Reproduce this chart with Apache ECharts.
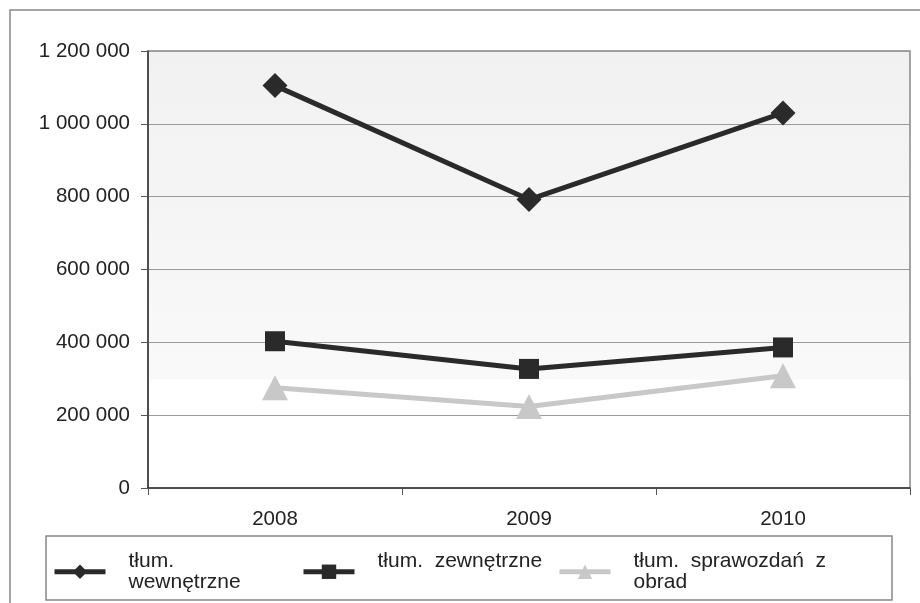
<!DOCTYPE html>
<html>
<head>
<meta charset="utf-8">
<script src="https://cdn.jsdelivr.net/npm/echarts@6/dist/echarts.min.js"></script>
<style>html,body{margin:0;padding:0;background:#fff}#c{width:920px;height:603px}</style>
</head>
<body>
<div id="c"></div>
<script>
const categories = ['2008', '2009', '2010'];
const seriesNames = ['tłum. wewnętrzne', 'tłum. zewnętrzne', 'tłum. sprawozdań z obrad'];
const wewnetrzne = [1105000, 792000, 1030000];
const zewnetrzne = [403000, 327000, 386000];
const sprawozdan = [275000, 224000, 308000];
const yTicks = [0, 200000, 400000, 600000, 800000, 1000000, 1200000];

const font = 'Liberation Sans, Arial, sans-serif';
const dark = '#2a2a2a';
const light = '#c8c8c8';
const fmt = v => String(v).replace(/\B(?=(\d{3})+(?!\d))/g, ' ');

const chart = echarts.init(document.getElementById('c'), null, {renderer: 'canvas'});

function legendFor(name, left, label) {
  return {
    show: true,
    data: [name],
    left: left,
    top: 551,
    orient: 'horizontal',
    itemWidth: 51,
    itemHeight: 18,
    itemGap: 0,
    padding: 0,
    formatter: () => label,
    lineStyle: {width: 5},
    textStyle: {fontFamily: font, fontSize: 21, color: '#222', lineHeight: 20.5, padding: [0, 0, 0, 18]},
    selectedMode: false
  };
}

const option = {
  animation: false,
  backgroundColor: '#fff',
  graphic: [
    {type: 'rect', shape: {x: 10, y: 10, width: 930, height: 620}, style: {fill: 'none', stroke: '#888', lineWidth: 1.5}, silent: true, z: -1},
    {type: 'rect', shape: {x: 46, y: 536, width: 846, height: 64}, style: {fill: 'none', stroke: '#888', lineWidth: 1.5}, silent: true}
  ],
  grid: {
    left: 148, top: 51, right: 10, bottom: 115,
    show: true,
    borderColor: '#888',
    borderWidth: 1.5,
    backgroundColor: {
      type: 'linear', x: 0, y: 0, x2: 0, y2: 1,
      colorStops: [
        {offset: 0, color: '#f1f1f1'},
        {offset: 0.75, color: '#f9f9f9'},
        {offset: 0.752, color: '#ffffff'},
        {offset: 1, color: '#ffffff'}
      ]
    }
  },
  legend: [
    legendFor(seriesNames[0], 52, 'tłum.\nwewnętrzne'),
    legendFor(seriesNames[1], 301, 'tłum.  zewnętrzne\n '),
    legendFor(seriesNames[2], 557, 'tłum.  sprawozdań  z\nobrad')
  ],
  xAxis: {
    type: 'category',
    data: categories,
    boundaryGap: true,
    axisLine: {lineStyle: {color: '#333', width: 1.5}},
    axisTick: {show: true, length: 7, lineStyle: {color: '#555'}},
    axisLabel: {fontFamily: font, fontSize: 20.5, color: '#222', margin: 21},
    splitLine: {show: false}
  },
  yAxis: {
    type: 'value',
    min: 0, max: 1200000, interval: 200000,
    axisLine: {show: true, lineStyle: {color: '#333', width: 1.5}},
    axisTick: {show: true, length: 7, lineStyle: {color: '#555'}},
    axisLabel: {fontFamily: font, fontSize: 20.5, color: '#222', margin: 18, formatter: v => yTicks.includes(v) ? fmt(v) : ''},
    splitLine: {show: true, lineStyle: {color: '#9a9a9a', width: 1}}
  },
  series: [
    {name: seriesNames[0], type: 'line', data: wewnetrzne, symbol: 'diamond', symbolSize: 25,
     lineStyle: {color: dark, width: 5}, itemStyle: {color: dark}, z: 3},
    {name: seriesNames[1], type: 'line', data: zewnetrzne, symbol: 'rect', symbolSize: 20,
     lineStyle: {color: dark, width: 5}, itemStyle: {color: dark}, z: 3},
    {name: seriesNames[2], type: 'line', data: sprawozdan, symbol: 'triangle', symbolSize: [26, 25],
     lineStyle: {color: light, width: 5}, itemStyle: {color: light}, z: 2}
  ]
};
chart.setOption(option);
</script>
</body>
</html>
